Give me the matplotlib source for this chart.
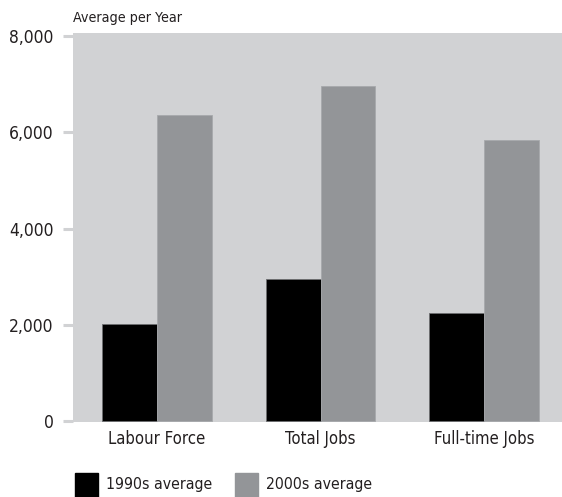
import matplotlib
matplotlib.use("Agg")
import matplotlib.pyplot as plt
from matplotlib.patches import Rectangle
import numpy as np

categories = ["Labour Force", "Total Jobs", "Full-time Jobs"]
series_names = ["1990s average", "2000s average"]
avg_1990s = [2030, 2950, 2250]
avg_2000s = [6350, 6960, 5850]
yticks = [0, 2000, 4000, 6000, 8000]

BG = "#d1d2d4"
GREY = "#939598"
BLACK = "#000000"
TXT = "#231f20"
plt.rcParams["font.family"] = ["DejaVu Sans"]
plt.rcParams["font.stretch"] = "condensed"

W, H = 562, 497
fig = plt.figure(figsize=(W / 100, H / 100), dpi=100)
ax = fig.add_axes([73.3 / W, (H - 422) / H, (562 - 73.3) / W, (422 - 33) / H])
ax.set_facecolor(BG)

x = np.arange(len(categories))
bw = 0.336
ax.bar(x - bw, avg_1990s, width=bw, align="edge", color=BLACK,
       edgecolor="#6d6e71", linewidth=0.6, label=series_names[0])
ax.bar(x, avg_2000s, width=bw, align="edge", color=GREY,
       edgecolor="#a7a9ac", linewidth=0.6, label=series_names[1])

ax.set_xlim(-0.512, 2.477)
ax.set_ylim(-12, 8061)
for s in ax.spines.values():
    s.set_visible(False)

ax.set_yticks(yticks)
ax.set_yticklabels([f"{v:,}" for v in yticks])
ax.tick_params(axis="y", length=7.2, width=2.2, color=BG, pad=7,
               labelsize=12.5, labelcolor=TXT)
ax.set_xticks(x)
ax.set_xticklabels(categories)
ax.tick_params(axis="x", length=0, pad=6, labelsize=12, labelcolor=TXT)

fig.text(73 / W, 1 - 18 / H, "Average per Year", ha="left", va="center",
         fontsize=10.3, color=TXT)

# legend
for i, (name, col) in enumerate(zip(series_names, [BLACK, GREY])):
    x0 = [75, 235][i]
    fig.patches.append(Rectangle((x0 / W, 0), 23 / W, 24 / H,
                                 transform=fig.transFigure, color=col))
    fig.text((x0 + 31) / W, 1 - 484 / H, name, ha="left", va="center",
             fontsize=11.3, color=TXT)

fig.savefig("out.png", dpi=100)
